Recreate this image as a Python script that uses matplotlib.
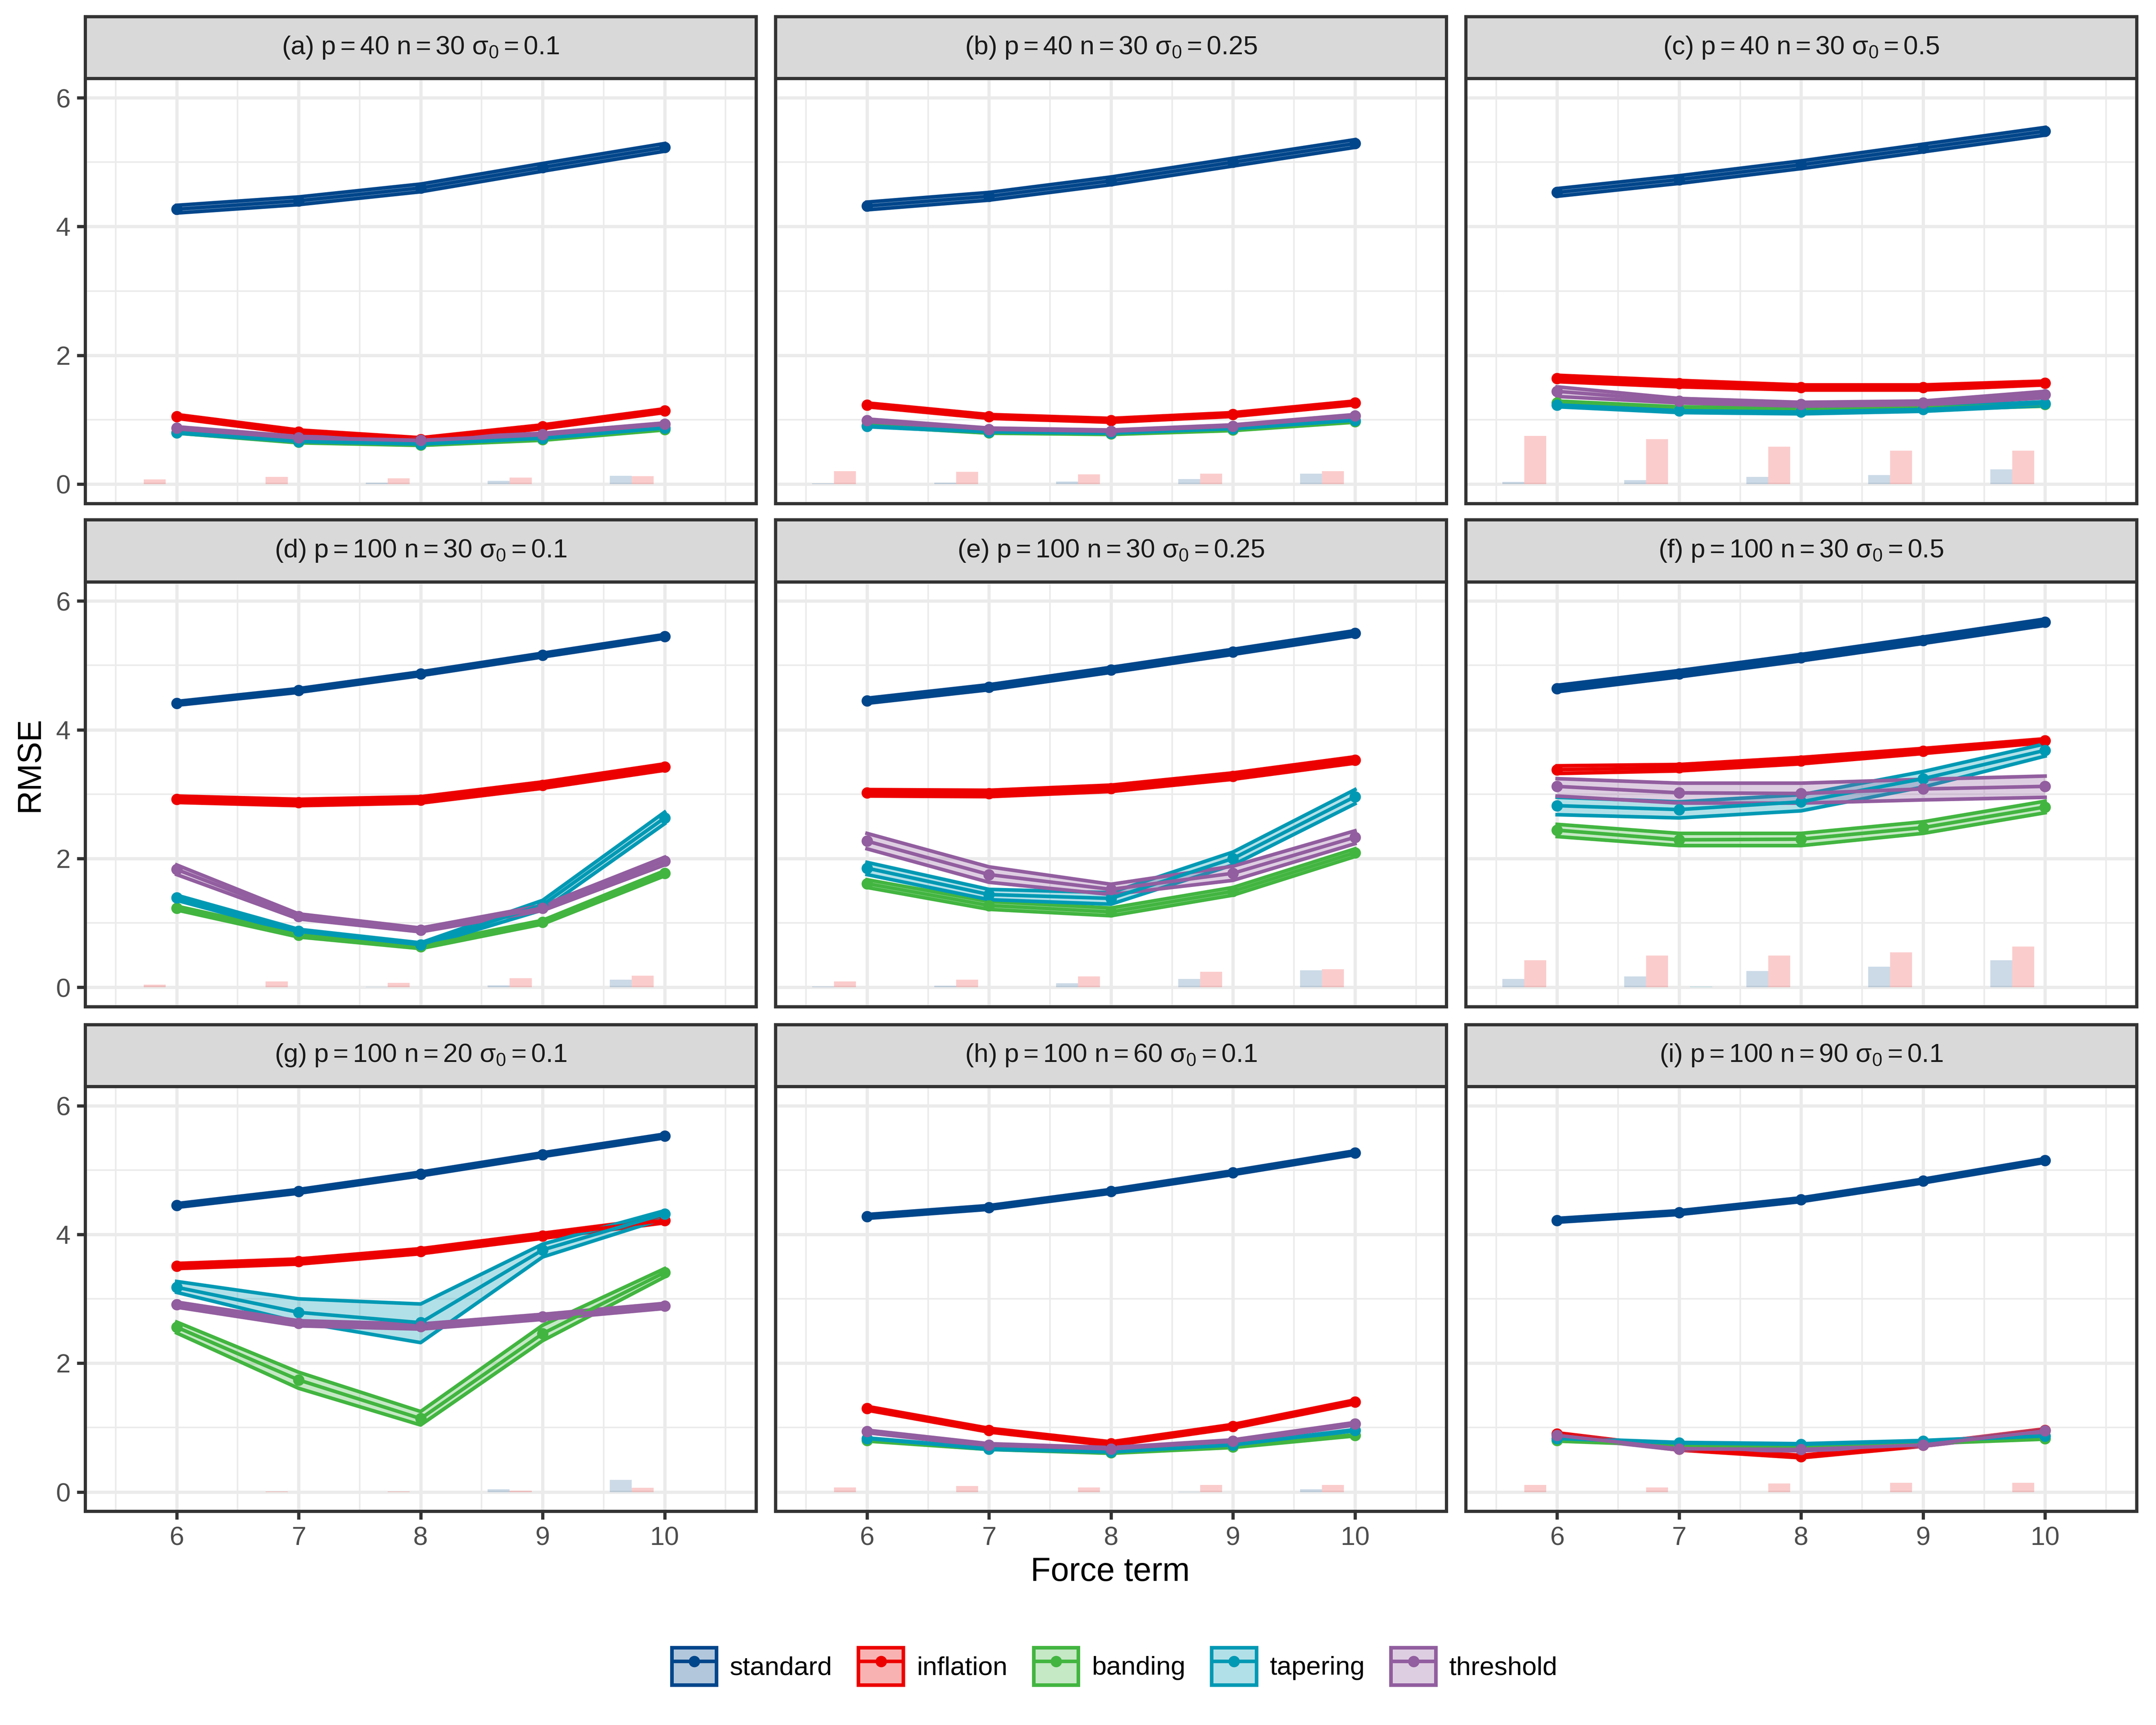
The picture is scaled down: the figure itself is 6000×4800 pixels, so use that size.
import numpy as np
import matplotlib
matplotlib.use("Agg")
import matplotlib.pyplot as plt
from matplotlib.patches import Patch
from matplotlib.lines import Line2D

plt.rcParams['font.family'] = ['Liberation Sans', 'DejaVu Sans']
plt.rcParams['mathtext.fontset'] = 'custom'
plt.rcParams['mathtext.rm'] = 'Liberation Sans'
plt.rcParams['mathtext.it'] = 'Liberation Sans:italic'
plt.rcParams['mathtext.bf'] = 'Liberation Sans:bold'

# panels
panel_tags = ["a", "b", "c", "d", "e", "f", "g", "h", "i"]
p_vals = [40, 40, 40, 100, 100, 100, 100, 100, 100]
n_vals = [30, 30, 30, 30, 30, 30, 20, 60, 90]
sigma_vals = ["0.1", "0.25", "0.5", "0.1", "0.25", "0.5", "0.1", "0.1", "0.1"]

force = [6, 7, 8, 9, 10]
methods = ["standard", "inflation", "banding", "tapering", "threshold"]
colors = ["#00468B", "#ED0000", "#42B540", "#0099B4", "#925E9F"]

# RMSE mean / lower / upper, one row per panel
standard_mean = [[4.27, 4.40, 4.60, 4.92, 5.23], [4.32, 4.47, 4.71, 5.00, 5.29], [4.53, 4.73, 4.96, 5.22, 5.48],
                 [4.41, 4.61, 4.87, 5.16, 5.45], [4.45, 4.66, 4.93, 5.21, 5.50], [4.64, 4.87, 5.12, 5.39, 5.67],
                 [4.45, 4.67, 4.94, 5.24, 5.53], [4.28, 4.42, 4.67, 4.96, 5.27], [4.22, 4.34, 4.54, 4.83, 5.15]]
standard_lo = [[4.21, 4.34, 4.54, 4.86, 5.17], [4.26, 4.41, 4.65, 4.94, 5.23], [4.47, 4.67, 4.90, 5.16, 5.42],
               [4.38, 4.58, 4.84, 5.13, 5.42], [4.41, 4.62, 4.89, 5.17, 5.46], [4.59, 4.82, 5.07, 5.34, 5.62],
               [4.42, 4.64, 4.91, 5.21, 5.50], [4.25, 4.39, 4.64, 4.93, 5.24], [4.19, 4.31, 4.51, 4.80, 5.12]]
standard_hi = [[4.33, 4.46, 4.66, 4.98, 5.29], [4.38, 4.53, 4.77, 5.06, 5.35], [4.59, 4.79, 5.02, 5.28, 5.54],
               [4.44, 4.64, 4.90, 5.19, 5.48], [4.49, 4.70, 4.97, 5.25, 5.54], [4.69, 4.92, 5.17, 5.44, 5.72],
               [4.48, 4.70, 4.97, 5.27, 5.56], [4.31, 4.45, 4.70, 4.99, 5.30], [4.25, 4.37, 4.57, 4.86, 5.18]]

inflation_mean = [[1.05, 0.81, 0.69, 0.89, 1.14], [1.23, 1.05, 0.99, 1.08, 1.26], [1.64, 1.56, 1.50, 1.50, 1.57],
                  [2.92, 2.87, 2.91, 3.14, 3.42], [3.02, 3.01, 3.09, 3.28, 3.53], [3.38, 3.41, 3.52, 3.67, 3.83],
                  [3.51, 3.58, 3.74, 3.98, 4.22], [1.30, 0.96, 0.75, 1.02, 1.40], [0.90, 0.67, 0.55, 0.73, 0.96]]
inflation_lo = [[1.02, 0.78, 0.66, 0.86, 1.11], [1.20, 1.02, 0.96, 1.05, 1.23], [1.59, 1.51, 1.46, 1.46, 1.54],
                [2.87, 2.82, 2.86, 3.09, 3.37], [2.97, 2.96, 3.04, 3.23, 3.48], [3.32, 3.36, 3.47, 3.63, 3.80],
                [3.47, 3.54, 3.70, 3.94, 4.18], [1.27, 0.93, 0.72, 0.99, 1.37], [0.88, 0.65, 0.53, 0.71, 0.94]]
inflation_hi = [[1.08, 0.84, 0.72, 0.92, 1.17], [1.26, 1.08, 1.02, 1.11, 1.29], [1.69, 1.61, 1.54, 1.54, 1.60],
                [2.97, 2.92, 2.96, 3.19, 3.47], [3.07, 3.06, 3.14, 3.33, 3.58], [3.44, 3.46, 3.57, 3.71, 3.86],
                [3.55, 3.62, 3.78, 4.02, 4.26], [1.33, 0.99, 0.78, 1.05, 1.43], [0.92, 0.69, 0.57, 0.75, 0.98]]

banding_mean = [[0.80, 0.65, 0.61, 0.69, 0.85], [0.91, 0.80, 0.78, 0.84, 0.97], [1.26, 1.17, 1.15, 1.18, 1.24],
                [1.23, 0.81, 0.63, 1.01, 1.77], [1.61, 1.27, 1.17, 1.49, 2.09], [2.44, 2.29, 2.30, 2.48, 2.80],
                [2.56, 1.74, 1.14, 2.46, 3.41], [0.80, 0.67, 0.61, 0.70, 0.88], [0.80, 0.73, 0.70, 0.76, 0.83]]
banding_lo = [[0.79, 0.64, 0.60, 0.68, 0.84], [0.90, 0.79, 0.77, 0.83, 0.96], [1.23, 1.14, 1.12, 1.15, 1.21],
              [1.20, 0.78, 0.60, 0.98, 1.73], [1.55, 1.21, 1.11, 1.43, 2.03], [2.34, 2.20, 2.20, 2.39, 2.71],
              [2.47, 1.61, 1.04, 2.35, 3.34], [0.79, 0.66, 0.60, 0.69, 0.87], [0.79, 0.72, 0.69, 0.75, 0.82]]
banding_hi = [[0.81, 0.66, 0.62, 0.70, 0.86], [0.92, 0.81, 0.79, 0.85, 0.98], [1.29, 1.20, 1.18, 1.21, 1.27],
              [1.26, 0.84, 0.66, 1.04, 1.81], [1.67, 1.33, 1.23, 1.55, 2.15], [2.53, 2.39, 2.39, 2.57, 2.89],
              [2.64, 1.86, 1.25, 2.59, 3.47], [0.81, 0.68, 0.62, 0.71, 0.89], [0.81, 0.74, 0.71, 0.77, 0.84]]

tapering_mean = [[0.80, 0.66, 0.62, 0.71, 0.87], [0.90, 0.81, 0.79, 0.86, 0.99], [1.23, 1.14, 1.12, 1.16, 1.25],
                 [1.39, 0.87, 0.66, 1.28, 2.63], [1.85, 1.44, 1.38, 2.00, 2.96], [2.82, 2.76, 2.88, 3.24, 3.68],
                 [3.18, 2.79, 2.63, 3.76, 4.32], [0.83, 0.67, 0.62, 0.73, 0.96], [0.83, 0.76, 0.74, 0.79, 0.87]]
tapering_lo = [[0.79, 0.65, 0.61, 0.70, 0.86], [0.89, 0.80, 0.78, 0.85, 0.98], [1.20, 1.11, 1.09, 1.13, 1.22],
               [1.35, 0.84, 0.63, 1.20, 2.54], [1.75, 1.36, 1.29, 1.90, 2.85], [2.68, 2.63, 2.74, 3.11, 3.59],
               [3.10, 2.64, 2.32, 3.65, 4.25], [0.82, 0.66, 0.61, 0.72, 0.95], [0.82, 0.75, 0.73, 0.78, 0.86]]
tapering_hi = [[0.81, 0.67, 0.63, 0.72, 0.88], [0.91, 0.82, 0.80, 0.87, 1.00], [1.26, 1.17, 1.15, 1.19, 1.28],
               [1.43, 0.90, 0.69, 1.35, 2.72], [1.94, 1.52, 1.47, 2.10, 3.07], [2.95, 2.88, 2.99, 3.35, 3.78],
               [3.27, 3.00, 2.92, 3.85, 4.37], [0.84, 0.68, 0.63, 0.74, 0.97], [0.84, 0.77, 0.75, 0.80, 0.88]]

threshold_mean = [[0.87, 0.72, 0.68, 0.77, 0.93], [0.99, 0.85, 0.82, 0.90, 1.06], [1.44, 1.29, 1.24, 1.26, 1.39],
                  [1.83, 1.10, 0.89, 1.23, 1.96], [2.27, 1.75, 1.52, 1.77, 2.33], [3.12, 3.02, 3.01, 3.08, 3.12],
                  [2.91, 2.62, 2.57, 2.72, 2.89], [0.94, 0.73, 0.67, 0.79, 1.06], [0.88, 0.67, 0.66, 0.73, 0.95]]
threshold_lo = [[0.85, 0.70, 0.66, 0.75, 0.91], [0.97, 0.83, 0.80, 0.88, 1.04], [1.36, 1.26, 1.21, 1.23, 1.34],
                [1.75, 1.06, 0.86, 1.19, 1.90], [2.15, 1.63, 1.44, 1.66, 2.23], [2.97, 2.86, 2.86, 2.91, 2.95],
                [2.87, 2.58, 2.53, 2.68, 2.85], [0.92, 0.71, 0.65, 0.77, 1.04], [0.86, 0.65, 0.64, 0.71, 0.93]]
threshold_hi = [[0.89, 0.74, 0.70, 0.79, 0.95], [1.01, 0.87, 0.84, 0.92, 1.08], [1.51, 1.33, 1.27, 1.29, 1.44],
                [1.90, 1.14, 0.92, 1.27, 2.02], [2.39, 1.87, 1.60, 1.88, 2.43], [3.24, 3.17, 3.17, 3.23, 3.28],
                [2.95, 2.66, 2.61, 2.76, 2.93], [0.96, 0.75, 0.69, 0.81, 1.08], [0.90, 0.69, 0.68, 0.75, 0.97]]

# bar heights at the bottom of each panel
standard_bar = [[0.0, 0.0, 0.02, 0.05, 0.13], [0.01, 0.02, 0.04, 0.08, 0.16], [0.035, 0.06, 0.11, 0.14, 0.23],
                [0.0, 0.0, 0.005, 0.03, 0.12], [0.01, 0.02, 0.06, 0.13, 0.26], [0.13, 0.17, 0.25, 0.32, 0.42],
                [0.0, 0.0, 0.0, 0.04, 0.19], [0.0, 0.0, 0.0, 0.005, 0.04], [0.0, 0.0, 0.0, 0.0, 0.0]]
inflation_bar = [[0.07, 0.11, 0.09, 0.10, 0.12], [0.20, 0.19, 0.15, 0.16, 0.20], [0.75, 0.70, 0.58, 0.52, 0.52],
                 [0.04, 0.09, 0.07, 0.14, 0.18], [0.09, 0.12, 0.17, 0.24, 0.28], [0.42, 0.49, 0.49, 0.54, 0.63],
                 [0.0, 0.01, 0.01, 0.02, 0.065], [0.07, 0.095, 0.07, 0.11, 0.11], [0.11, 0.07, 0.13, 0.14, 0.14]]
banding_bar = [[0.0] * 5 for _ in range(9)]
tapering_bar = [[0.0] * 5 for _ in range(9)]
tapering_bar[5] = [0.0, 0.01, 0.0, 0.0, 0.0]
threshold_bar = [[0.0] * 5 for _ in range(9)]

means = [standard_mean, inflation_mean, banding_mean, tapering_mean, threshold_mean]
lows = [standard_lo, inflation_lo, banding_lo, tapering_lo, threshold_lo]
highs = [standard_hi, inflation_hi, banding_hi, tapering_hi, threshold_hi]
bars = [standard_bar, inflation_bar, banding_bar, tapering_bar, threshold_bar]

fig = plt.figure(figsize=(10, 8), dpi=600)

col_left = [0.0395, 0.3597, 0.6798]
row_bottom = [0.7082, 0.4165, 0.1239]
pw, ph, sh = 0.3112, 0.2463, 0.0359
grey20 = "#333333"
lw = 1.07      # panel border / grid
dlw = 1.2      # data lines
ms = 3.8
dodge = [-0.36, -0.18, 0.0, 0.18, 0.36]
x = np.array(force, dtype=float)

for k in range(9):
    r, c = divmod(k, 3)
    ax = fig.add_axes([col_left[c], row_bottom[r], pw, ph])
    ax.set_xlim(5.25, 10.75)
    ax.set_ylim(-0.3, 6.3)
    ax.set_xticks([6, 7, 8, 9, 10])
    ax.set_xticks([5.5, 6.5, 7.5, 8.5, 9.5, 10.5], minor=True)
    ax.set_yticks([0, 2, 4, 6])
    ax.set_yticks([1, 3, 5], minor=True)
    ax.grid(True, which="major", color="#EBEBEB", lw=lw)
    ax.grid(True, which="minor", color="#EBEBEB", lw=lw / 2)
    ax.set_axisbelow(True)
    for s in ax.spines.values():
        s.set_color(grey20)
        s.set_linewidth(lw)
    ax.tick_params(which="minor", length=0)
    ax.tick_params(which="major", length=2.75, width=lw, color=grey20,
                   labelsize=8.8, labelcolor="#4D4D4D", pad=2.2)
    if c != 0:
        ax.tick_params(axis="y", length=0, labelleft=False)
    if r != 2:
        ax.tick_params(axis="x", length=0, labelbottom=False)

    for m in range(5):
        ax.bar(x + dodge[m], bars[m][k], width=0.18, color=colors[m], alpha=0.2,
               linewidth=0, zorder=2)
    for m in range(5):
        ax.fill_between(x, lows[m][k], highs[m][k], color=colors[m], alpha=0.3,
                        linewidth=0, zorder=3)
        ax.plot(x, lows[m][k], color=colors[m], lw=dlw, zorder=3)
        ax.plot(x, highs[m][k], color=colors[m], lw=dlw, zorder=3)
    for m in range(5):
        ax.plot(x, means[m][k], color=colors[m], lw=dlw, zorder=4)
    for m in range(5):
        ax.plot(x, means[m][k], "o", color=colors[m], ms=ms, mew=0, zorder=5)

    # facet strip
    sax = fig.add_axes([col_left[c], row_bottom[r] + ph, pw, sh])
    sax.set_facecolor("#D9D9D9")
    sax.set_xticks([])
    sax.set_yticks([])
    for s in sax.spines.values():
        s.set_color(grey20)
        s.set_linewidth(lw)
    label = (f"({panel_tags[k]}) " + r"$\mathrm{p = " + str(p_vals[k]) + r"\ n = " + str(n_vals[k])
             + r"\ σ_0 = " + sigma_vals[k] + "}$")
    sax.text(0.5, 0.5, label, ha="center", va="center", fontsize=8.8, color="#1A1A1A",
             transform=sax.transAxes)

fig.text(0.014, 0.557, "RMSE", rotation=90, ha="center", va="center", fontsize=11)
fig.text(0.515, 0.0885, "Force term", ha="center", va="center", fontsize=11)

handles = []
for m in range(5):
    handles.append((Patch(facecolor=colors[m], alpha=0.3, edgecolor="none"),
                    Patch(facecolor="none", edgecolor=colors[m], linewidth=dlw),
                    Line2D([], [], color=colors[m], lw=dlw, marker="o", ms=ms, mew=0)))
fig.legend(handles, methods, loc="center", bbox_to_anchor=(0.517, 0.034), ncol=5,
           frameon=False, fontsize=8.8, handlelength=1.7, handleheight=1.8,
           handletextpad=0.5, columnspacing=1.0)

fig.savefig("out.png", dpi=600)
